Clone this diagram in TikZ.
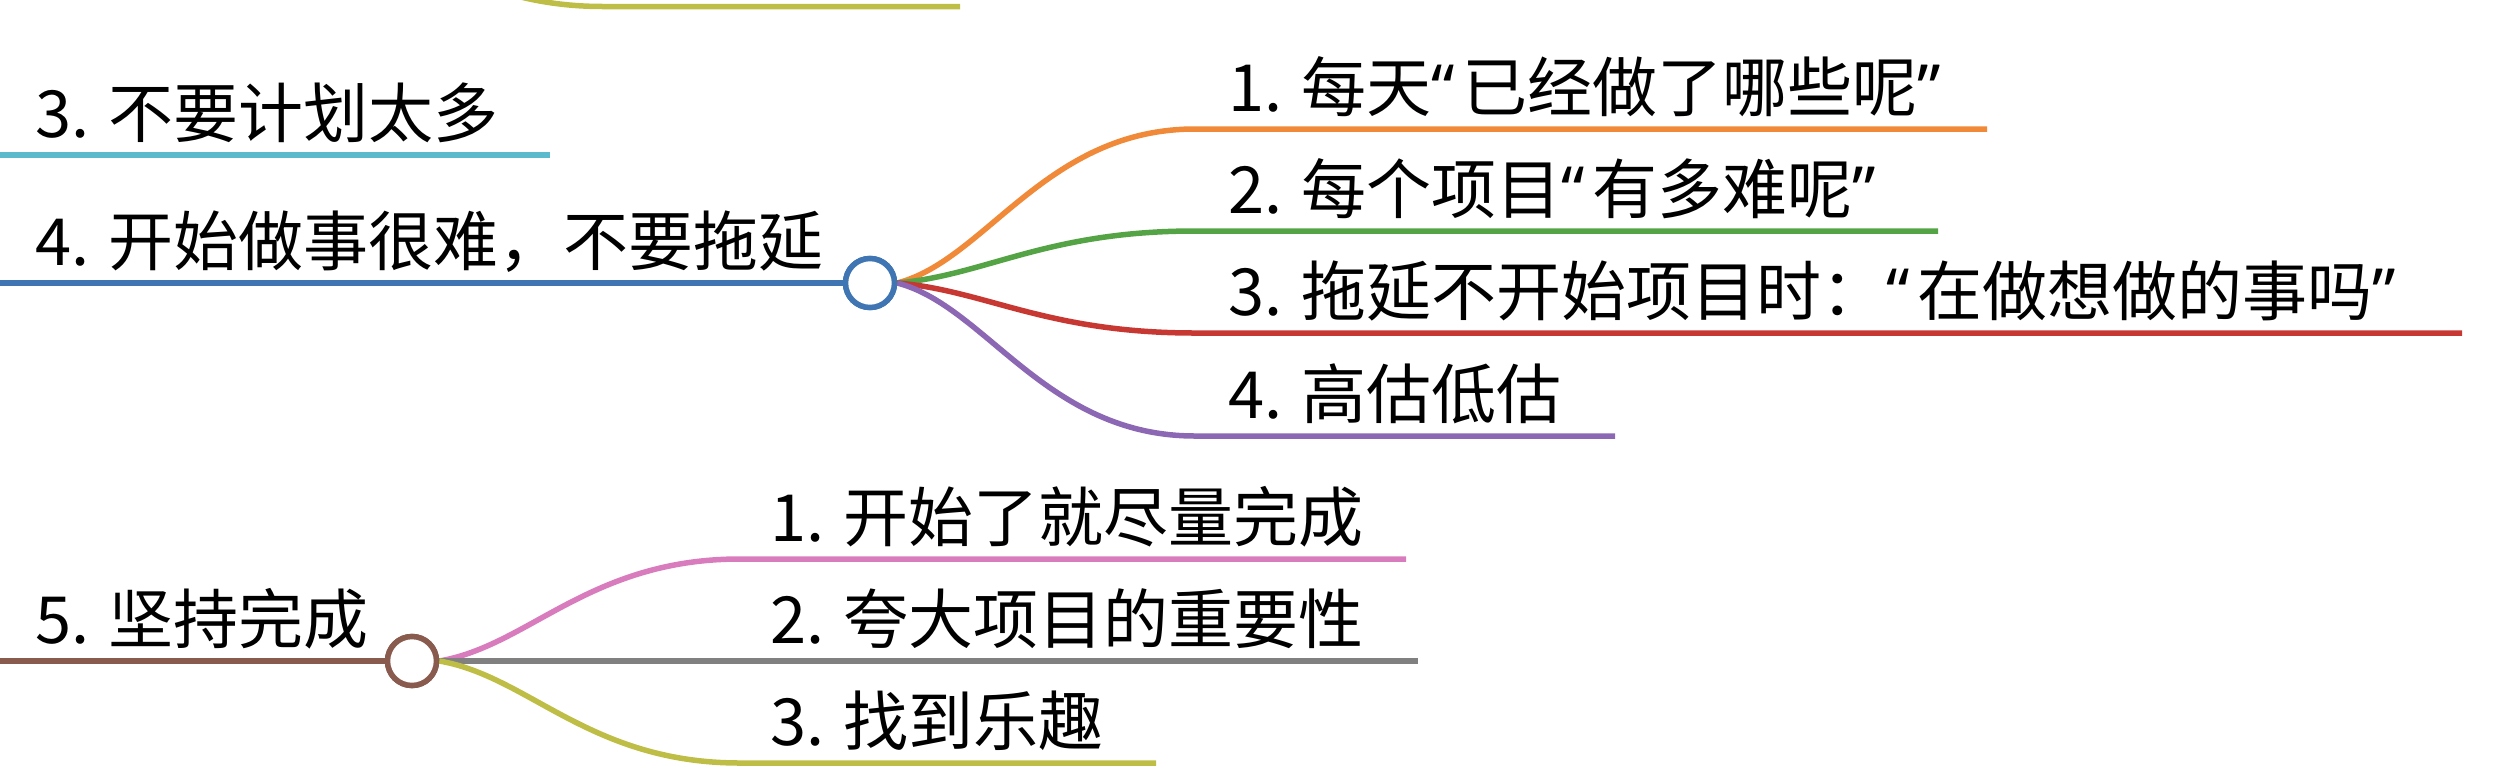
\documentclass[tikz,border=0pt]{standalone}
\usepackage{fontspec}
\newfontfamily\cjk{Noto Sans CJK SC}
\newfontfamily\latinq{Noto Sans}
\newcommand\myoq{{\latinq “}\kern7pt}
\newcommand\mycq{{\latinq ”}}
\definecolor{cOrange}{RGB}{240,137,56}
\definecolor{cGreen}{RGB}{84,163,69}
\definecolor{cRed}{RGB}{200,56,50}
\definecolor{cPurple}{RGB}{140,104,180}
\definecolor{cBlue}{RGB}{62,117,178}
\definecolor{cCyan}{RGB}{91,187,204}
\definecolor{cOlive}{RGB}{190,190,70}
\definecolor{cPink}{RGB}{216,124,190}
\definecolor{cGray}{RGB}{128,128,128}
\definecolor{cBrown}{RGB}{137,91,78}
\tikzset{
  branch/.style={line width=5.5pt},
  hub/.style={circle, draw=#1, fill=white, line width=5.5pt, minimum size=49pt, inner sep=0pt},
  label/.style={anchor=base west, inner sep=0pt, font=\cjk\fontsize{65}{65}\selectfont, text=black},
}
\begin{document}
\begin{tikzpicture}[x=1pt,y=-1pt]
\useasboundingbox (0,0) rectangle (2498,780);
\clip (0,0) rectangle (2498,780);

% left-edge coordinates (root branches come from off-picture)
\coordinate (L3) at (0,155);
\coordinate (L4) at (0,283);
\coordinate (L5) at (0,661);
\coordinate (C3e) at (550,155);

% previous group's tail (off-picture hub)
\coordinate (prevhub) at (300,-96);
\coordinate (pOs) at (603,6.5);
\coordinate (pOe) at (960,6.5);
\draw[branch, cOlive] (prevhub) .. controls (391,-80.7) and (451.5,6.5) .. (pOs) -- (pOe);

% 3. branch
\draw[branch, cCyan] (L3) -- (C3e);
\node[label] (t3) at (35,137) {3. 不要计划太多};

% 4. group
\node[hub=cBlue] (c4) at (870,283) {};
\draw[branch, cBlue] (L4) -- (c4.west);
\node[label] (t4) at (35,265) {4. 开始做事很难，不要拖延};

\coordinate (o1s) at (1195,129); \coordinate (o1e) at (1987,129);
\coordinate (o2s) at (1195,231); \coordinate (o2e) at (1938,231);
\coordinate (o3s) at (1195,333); \coordinate (o3e) at (2462,333);
\coordinate (o4s) at (1195,436); \coordinate (o4e) at (1615,436);

\draw[branch, cOrange] (c4.east) .. controls (986,259.9) and (1046,129) .. (o1s) -- (o1e);
\draw[branch, cGreen]  (c4.east) .. controls (986,275.2) and (1046,231) .. (o2s) -- (o2e);
\draw[branch, cRed]    (c4.east) .. controls (986,290.5) and (1046,333) .. (o3s) -- (o3e);
\draw[branch, cPurple] (c4.east) .. controls (986,306)   and (1046,436) .. (o4s) -- (o4e);
\node[hub=cBlue] at (c4) {};

\node[label] (s1) at (1228,111) {1. 每天\myoq 已经做了哪些呢\mycq};
\node[label] (s2) at (1228,213) {2. 每个项目\myoq 有多难呢\mycq};
\node[label] (s3) at (1228,315) {3. 拖延不开始项目时：\myoq 在做想做的事吗\mycq};
\node[label] (s4) at (1228,418) {4. 高估低估};

% 5. group
\node[hub=cBrown] (c5) at (412,661) {};
\draw[branch, cBrown] (L5) -- (c5.west);
\node[label] (t5) at (35,643) {5. 坚持完成};

\coordinate (p1s) at (740,559); \coordinate (p1e) at (1406,559);
\coordinate (p2e) at (1418,661);
\coordinate (p3s) at (740,763); \coordinate (p3e) at (1156,763);

\draw[branch, cPink]  (c5.east) .. controls (529,645.7) and (589.5,559) .. (p1s) -- (p1e);
\draw[branch, cGray]  (c5.east) -- (p2e);
\draw[branch, cOlive] (c5.east) .. controls (529,676.3) and (589.5,763) .. (p3s) -- (p3e);
\node[hub=cBrown] at (c5) {};

\node[label] (r1) at (770,541) {1. 开始了就尽量完成};
\node[label] (r2) at (770,643) {2. 夸大项目的重要性};
\node[label] (r3) at (770,745) {3. 找到乐趣};
\end{tikzpicture}
\end{document}
